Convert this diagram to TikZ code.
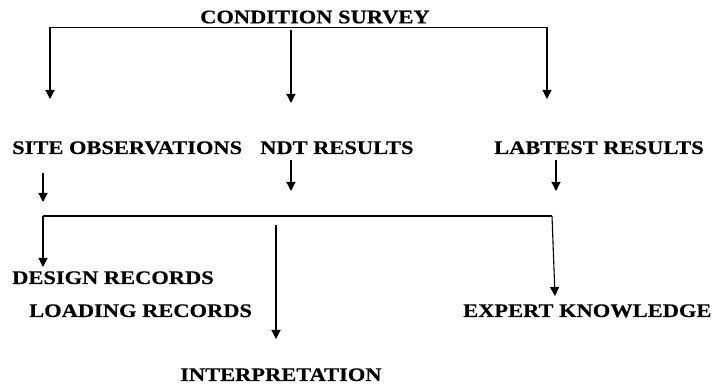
\documentclass[tikz,border=0pt]{standalone}
\usepackage{fontspec}
\setmainfont[FakeStretch=1.17,BoldFeatures={FakeStretch=1.17,FakeBold=0.4}]{Liberation Serif}
\usetikzlibrary{arrows.meta}
\begin{document}
\begin{tikzpicture}[x=1pt,y=-1pt,
  lbl/.style={anchor=base west,inner sep=0pt,font=\fontsize{19.2}{23}\selectfont\bfseries},
  conn/.style={line width=1.1pt,black},
  arr/.style={conn,-{Triangle[width=9pt,length=9pt]}}]
\useasboundingbox (0,0) rectangle (713,387);
% text nodes
\node[lbl] (cs) at (200,23.3) {CONDITION SURVEY};
\node[lbl] (so) at (12,154) {SITE OBSERVATIONS};
\node[lbl] (ndt) at (260,154) {NDT RESULTS};
\node[lbl] (lab) at (494,154) {LABTEST RESULTS};
\node[lbl] (des) at (12,284) {DESIGN RECORDS};
\node[lbl] (load) at (29,317) {LOADING RECORDS};
\node[lbl] (exp) at (463,317) {EXPERT KNOWLEDGE};
\node[lbl] (int) at (180,381) {INTERPRETATION};
% coordinates
\coordinate (t1) at (50,27);
\coordinate (t2) at (547,27);
\coordinate (a1) at (50,99);
\coordinate (a2) at (547,99);
\coordinate (m1) at (291,30);
\coordinate (m2) at (291,103);
\coordinate (s1) at (43,173);
\coordinate (s2) at (43,202);
\coordinate (n1) at (291,160);
\coordinate (n2) at (291,191);
\coordinate (l1) at (556,160);
\coordinate (l2) at (556,191);
\coordinate (b1) at (43,216);
\coordinate (b2) at (552,216);
\coordinate (d2) at (43,267);
\coordinate (e2) at (555,296);
\coordinate (i1) at (276,225);
\coordinate (i2) at (276,339);
% connectors
\draw[conn,line width=0.9pt] (t1) -- (t2);
\draw[arr] (t1) -- (a1);
\draw[arr] (t2) -- (a2);
\draw[arr] (m1) -- (m2);
\draw[arr] (s1) -- (s2);
\draw[arr] (n1) -- (n2);
\draw[arr] (l1) -- (l2);
\draw[conn] (b1) -- (b2);
\draw[arr] (b1) -- (d2);
\draw[arr] (b2) -- (e2);
\draw[arr] (i1) -- (i2);
\end{tikzpicture}
\end{document}
